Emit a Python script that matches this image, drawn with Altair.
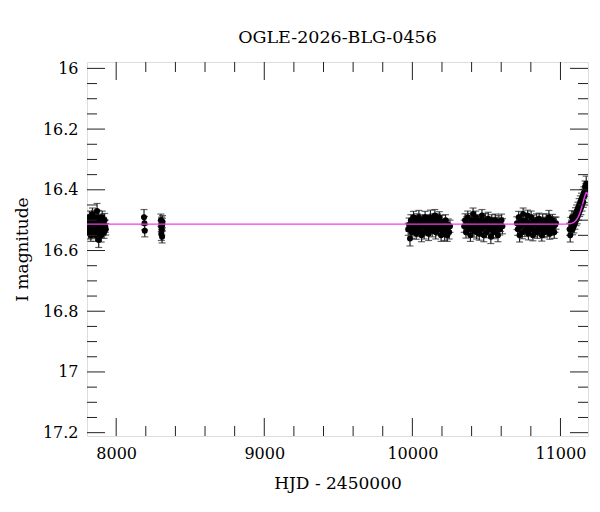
import altair as alt
import pandas as pd

# ---- photometry (HJD-2450000, I mag, error) ----
hjd_a = [7808, 7812, 7815, 7819, 7822, 7826, 7829, 7833, 7836, 7840, 7843, 7847, 7850, 7854, 7857,
         7861, 7864, 7868, 7871, 7875, 7878, 7882, 7885, 7889, 7892, 7896, 7899, 7903, 7906, 7910,
         7914, 7918, 7922, 7926, 7930]
mag_a = [16.52, 16.50, 16.54, 16.49, 16.53, 16.51, 16.55, 16.50, 16.52, 16.48, 16.54, 16.51, 16.53, 16.49, 16.52,
         16.55, 16.50, 16.53, 16.47, 16.52, 16.49, 16.565, 16.54, 16.51, 16.53, 16.50, 16.55, 16.52, 16.49, 16.53,
         16.51, 16.54, 16.50, 16.52, 16.53]
err_a = [0.020, 0.018, 0.022, 0.020, 0.019, 0.021, 0.020, 0.018, 0.022, 0.020, 0.021, 0.019, 0.020, 0.022, 0.018,
         0.020, 0.021, 0.019, 0.025, 0.020, 0.022, 0.025, 0.020, 0.019, 0.021, 0.020, 0.022, 0.018, 0.020, 0.021,
         0.019, 0.020, 0.022, 0.020, 0.019]

hjd_b = [8188, 8191, 8193, 8302, 8304, 8305, 8307, 8308, 8310, 8311, 8313]
mag_b = [16.49, 16.51, 16.535, 16.50, 16.52, 16.545, 16.51, 16.53, 16.555, 16.515, 16.505]
err_b = [0.025, 0.022, 0.020, 0.020, 0.018, 0.022, 0.020, 0.019, 0.020, 0.021, 0.020]

hjd_d = [9972, 9978, 9984, 9990, 9996, 10002, 10008, 10014, 10020, 10026, 10032, 10038, 10044, 10050, 10056,
         10062, 10068, 10074, 10080, 10086, 10092, 10098, 10104, 10110, 10116, 10122, 10128, 10134, 10140, 10146,
         10152, 10158, 10164, 10170, 10176, 10182, 10188, 10194, 10200, 10206, 10212, 10218, 10224, 10230, 10236,
         10242, 10248, 10254]
mag_d = [16.53, 16.515, 16.56, 16.50, 16.54, 16.52, 16.49, 16.53, 16.51, 16.545, 16.50, 16.525, 16.49, 16.535, 16.51,
         16.55, 16.50, 16.52, 16.54, 16.49, 16.515, 16.53, 16.50, 16.545, 16.52, 16.49, 16.51, 16.535, 16.50, 16.525,
         16.485, 16.54, 16.51, 16.50, 16.53, 16.49, 16.52, 16.55, 16.505, 16.535, 16.52, 16.545, 16.50, 16.53, 16.55,
         16.515, 16.54, 16.52]
err_d = [0.020, 0.022, 0.025, 0.018, 0.020, 0.021, 0.019, 0.022, 0.020, 0.018, 0.021, 0.020, 0.022, 0.019, 0.020,
         0.021, 0.018, 0.020, 0.022, 0.019, 0.020, 0.021, 0.018, 0.022, 0.020, 0.023, 0.019, 0.020, 0.021, 0.018,
         0.020, 0.022, 0.019, 0.021, 0.020, 0.018, 0.022, 0.020, 0.021, 0.019, 0.020, 0.022, 0.018, 0.021, 0.020,
         0.019, 0.022, 0.020]

hjd_e = [10350, 10356, 10362, 10368, 10374, 10380, 10386, 10392, 10398, 10404, 10410, 10416, 10422, 10428, 10434,
         10440, 10446, 10452, 10458, 10464, 10470, 10476, 10482, 10488, 10494, 10500, 10506, 10512, 10518, 10524,
         10530, 10536, 10542, 10548, 10554, 10560, 10566, 10572, 10578, 10584, 10590, 10596, 10602, 10608]
mag_e = [16.52, 16.50, 16.54, 16.51, 16.49, 16.53, 16.515, 16.55, 16.50, 16.525, 16.48, 16.535, 16.51, 16.49, 16.54,
         16.52, 16.505, 16.545, 16.50, 16.53, 16.485, 16.515, 16.55, 16.52, 16.50, 16.54, 16.51, 16.495, 16.53, 16.515,
         16.555, 16.50, 16.525, 16.54, 16.51, 16.50, 16.535, 16.52, 16.55, 16.505, 16.53, 16.515, 16.50, 16.52]
err_e = [0.020, 0.021, 0.019, 0.022, 0.020, 0.018, 0.021, 0.020, 0.022, 0.019, 0.020, 0.021, 0.018, 0.020, 0.022,
         0.019, 0.020, 0.021, 0.018, 0.022, 0.020, 0.019, 0.021, 0.020, 0.022, 0.018, 0.020, 0.021, 0.019, 0.020,
         0.022, 0.018, 0.020, 0.021, 0.019, 0.020, 0.022, 0.018, 0.021, 0.020, 0.019, 0.022, 0.020, 0.025]

hjd_f = [10706, 10712, 10718, 10724, 10730, 10736, 10742, 10748, 10754, 10760, 10766, 10772, 10778, 10784, 10790,
         10796, 10802, 10808, 10814, 10820, 10826, 10832, 10838, 10844, 10850, 10856, 10862, 10868, 10874, 10880,
         10886, 10892, 10898, 10904, 10910, 10916, 10922, 10928, 10934, 10940, 10946, 10952, 10958, 10964, 10970]
mag_f = [16.51, 16.53, 16.49, 16.55, 16.52, 16.50, 16.54, 16.48, 16.515, 16.535, 16.50, 16.525, 16.485, 16.545, 16.51,
         16.53, 16.49, 16.52, 16.55, 16.505, 16.535, 16.51, 16.50, 16.54, 16.52, 16.495, 16.53, 16.515, 16.55, 16.50,
         16.525, 16.54, 16.51, 16.50, 16.535, 16.52, 16.49, 16.545, 16.51, 16.53, 16.50, 16.52, 16.54, 16.515, 16.51]
err_f = [0.021, 0.020, 0.019, 0.022, 0.020, 0.018, 0.021, 0.020, 0.022, 0.019, 0.020, 0.021, 0.018, 0.020, 0.022,
         0.019, 0.020, 0.021, 0.018, 0.022, 0.020, 0.019, 0.021, 0.020, 0.022, 0.018, 0.020, 0.021, 0.019, 0.020,
         0.022, 0.018, 0.020, 0.021, 0.019, 0.020, 0.022, 0.018, 0.021, 0.020, 0.019, 0.022, 0.020, 0.025, 0.020]

hjd_g = [11062, 11066, 11070, 11074, 11078, 11082, 11086, 11090, 11094, 11098, 11102, 11106, 11110, 11114, 11118,
         11122, 11126, 11130, 11134, 11138, 11142, 11146, 11150, 11154, 11158, 11162, 11166, 11170, 11174, 11178, 11182]
mag_g = [16.53, 16.55, 16.51, 16.52, 16.49, 16.53, 16.50, 16.52, 16.49, 16.51, 16.48, 16.50, 16.47, 16.49, 16.46,
         16.48, 16.45, 16.47, 16.44, 16.46, 16.43, 16.45, 16.42, 16.44, 16.41, 16.42, 16.39, 16.40, 16.38, 16.395, 16.40]
err_g = [0.020, 0.022, 0.019, 0.020, 0.021, 0.018, 0.020, 0.022, 0.019, 0.020, 0.021, 0.018, 0.020, 0.022, 0.019,
         0.020, 0.021, 0.018, 0.020, 0.022, 0.019, 0.020, 0.021, 0.018, 0.020, 0.022, 0.019, 0.020, 0.025, 0.021, 0.020]

# ---- model curve ----
model_t = [7803, 11040, 11060, 11080, 11095, 11110, 11122, 11134, 11145, 11155, 11163, 11170, 11176, 11181, 11186]
model_m = [16.513, 16.513, 16.512, 16.510, 16.505, 16.497, 16.487, 16.472, 16.455, 16.437, 16.423, 16.413,
           16.408, 16.411, 16.420]

# ---- tick values ----
y_major = [16.0, 16.2, 16.4, 16.6, 16.8, 17.0, 17.2]
y_minor = [16.05, 16.1, 16.15, 16.25, 16.3, 16.35, 16.45, 16.5, 16.55, 16.65, 16.7, 16.75,
           16.85, 16.9, 16.95, 17.05, 17.1, 17.15]
x_major = [8000, 9000, 10000, 11000]
x_minor = [8200, 8400, 8600, 8800, 9200, 9400, 9600, 9800, 10200, 10400, 10600, 10800]

X_DOMAIN = [7803, 11186]
Y_DOMAIN = [15.979, 17.211]
W, H = 501, 374
FONT = "DejaVu Serif"

obs = pd.DataFrame({
    "t": hjd_a + hjd_b + hjd_d + hjd_e + hjd_f + hjd_g,
    "m": mag_a + mag_b + mag_d + mag_e + mag_f + mag_g,
    "e": err_a + err_b + err_d + err_e + err_f + err_g,
})
obs["lo"] = obs["m"] - obs["e"]
obs["hi"] = obs["m"] + obs["e"]
model = pd.DataFrame({"t": model_t, "m": model_m})

xs = alt.Scale(domain=X_DOMAIN, nice=False, zero=False)
ys = alt.Scale(domain=Y_DOMAIN, nice=False, zero=False, reverse=True)

x_axis = alt.Axis(title="HJD - 2450000", values=x_major, format="d", ticks=False, tickSize=0,
                  domain=False, grid=False, labelFont=FONT, labelFontSize=16, labelColor="black",
                  labelPadding=9, titleFont=FONT, titleFontSize=17, titleFontWeight="normal",
                  titleColor="black", titleY=47, titleBaseline="middle")
y_axis = alt.Axis(title="I magnitude", values=y_major, format=".1~f", ticks=False, tickSize=0,
                  domain=False, grid=False, labelFont=FONT, labelFontSize=16, labelColor="black",
                  labelPadding=9, labelBaseline="middle", titleFont=FONT, titleFontSize=17,
                  titleFontWeight="normal", titleColor="black", titleX=-65, titleY=187,
                  titleBaseline="middle", titleAngle=270)

def X(f):
    return alt.X(f, scale=xs, axis=x_axis)

def Y(f):
    return alt.Y(f, scale=ys, axis=y_axis)

base = alt.Chart(obs)

bars = base.mark_rule(color="#222", strokeWidth=1.2, clip=True).encode(
    x=X("t:Q"), y=Y("lo:Q"), y2="hi:Q")
cap_lo = base.mark_tick(color="#222", orient="horizontal", size=7, thickness=1.2, clip=True).encode(
    x=X("t:Q"), y=Y("lo:Q"))
cap_hi = base.mark_tick(color="#222", orient="horizontal", size=7, thickness=1.2, clip=True).encode(
    x=X("t:Q"), y=Y("hi:Q"))
pts = base.mark_circle(color="black", size=36, opacity=1, clip=True).encode(
    x=X("t:Q"), y=Y("m:Q"))

line = alt.Chart(model).mark_line(color="#f03cf0", strokeWidth=1.4, interpolate="monotone", clip=True).encode(
    x=X("t:Q"), y=Y("m:Q"))

def yticks(vals, length):
    d = pd.DataFrame({"v": vals})
    left = alt.Chart(d).mark_rule(color="#222", strokeWidth=1).encode(
        y=Y("v:Q"), x=alt.value(0), x2=alt.value(length))
    right = alt.Chart(d).mark_rule(color="#222", strokeWidth=1).encode(
        y=Y("v:Q"), x=alt.value(W - length), x2=alt.value(W))
    return [left, right]

def xticks(vals, length):
    d = pd.DataFrame({"v": vals})
    bottom = alt.Chart(d).mark_rule(color="#222", strokeWidth=1).encode(
        x=X("v:Q"), y=alt.value(H), y2=alt.value(H - length))
    top = alt.Chart(d).mark_rule(color="#222", strokeWidth=1).encode(
        x=X("v:Q"), y=alt.value(0), y2=alt.value(length))
    return [bottom, top]

layers = [bars, cap_lo, cap_hi, pts, line]
layers += yticks(y_major, 18) + yticks(y_minor, 10) + xticks(x_major, 18) + xticks(x_minor, 10)

chart = alt.layer(*layers).properties(
    width=W, height=H,
    title=alt.TitleParams("OGLE-2026-BLG-0456", font=FONT, fontSize=17.5, fontWeight="normal",
                          color="black", anchor="middle", offset=14),
    autosize=alt.AutoSizeParams(type="none"),
    padding={"left": 79, "top": 54, "right": 4, "bottom": 60},
).configure_view(
    stroke="#111", strokeWidth=1.5
).configure(background="white")

chart.save("out.html", embed_options={"renderer": "svg", "actions": False})
